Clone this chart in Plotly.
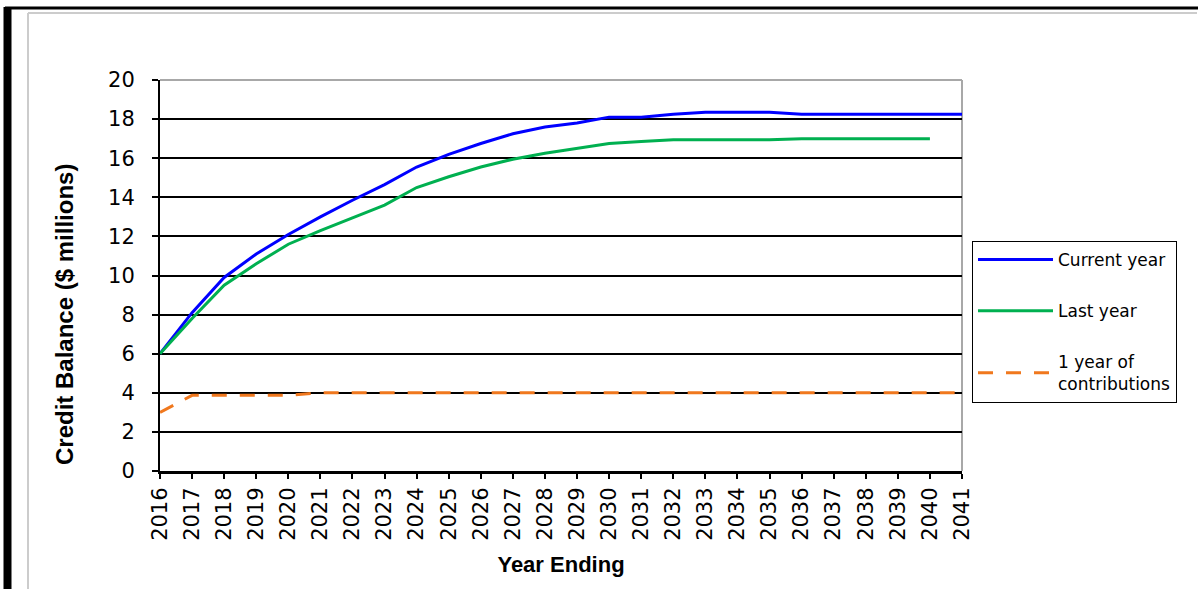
import plotly.graph_objects as go

# Projected credit balance by year ending ($ millions)
years = list(range(2016, 2042))
current_year = [6.0, 8.1, 9.9, 11.1, 12.1, 13.0, 13.85, 14.65, 15.55, 16.2,
                16.75, 17.25, 17.6, 17.8, 18.1, 18.1, 18.25, 18.35, 18.35, 18.35,
                18.25, 18.25, 18.25, 18.25, 18.25, 18.25]
last_year = [6.0, 7.8, 9.5, 10.6, 11.6, 12.3, 12.95, 13.6, 14.5, 15.05,
             15.55, 15.95, 16.25, 16.5, 16.75, 16.85, 16.95, 16.95, 16.95, 16.95,
             17.0, 17.0, 17.0, 17.0, 17.0, None]
one_year_contrib = [3.0, 3.87, 3.87, 3.87, 3.87, 4.0, 4.0, 4.0, 4.0, 4.0,
                    4.0, 4.0, 4.0, 4.0, 4.0, 4.0, 4.0, 4.0, 4.0, 4.0,
                    4.0, 4.0, 4.0, 4.0, 4.0, 4.0]
y_ticks = list(range(0, 21, 2))

W, H = 1203, 589
L, R, T, B = 160, 962, 80, 471  # plot area in pixels


def px(x):
    return (x - L) / (R - L)


def py(y):
    return (B - y) / (B - T)


fig = go.Figure()
fig.add_trace(go.Scatter(x=years, y=current_year, mode="lines", name="Current year",
                         line=dict(color="#0000FF", width=3), legendgroup="a"))
fig.add_trace(go.Scatter(x=years, y=last_year, mode="lines", name="Last year",
                         line=dict(color="#00B050", width=3), legendgroup="b"))
fig.add_trace(go.Scatter(x=years, y=one_year_contrib, mode="lines",
                         name="1 year of<br>contributions",
                         line=dict(color="#F0781E", width=3, dash="15px,13px"),
                         legendgroup="c"))

tick_font = dict(family="DejaVu Sans", size=21, color="black")
title_font = dict(family="Liberation Sans", size=22, color="black")

fig.update_xaxes(
    range=[2016, 2041], tickmode="array", tickvals=years,
    ticktext=[str(y) for y in years], tickangle=-90,
    ticks="outside", ticklen=5, tickwidth=2, tickcolor="black",
    showline=True, linecolor="black", linewidth=3,
    showgrid=False, zeroline=False, tickfont=tick_font,
    title=dict(text="<b>Year Ending</b>", font=title_font, standoff=17),
)
fig.update_yaxes(
    range=[0, 20], tickmode="array", tickvals=y_ticks,
    ticks="outside", ticklen=6, tickwidth=2, tickcolor="black",
    showline=True, linecolor="black", linewidth=2,
    showgrid=True, gridcolor="black", gridwidth=2, zeroline=False,
    tickfont=tick_font, ticklabelstandoff=13,
)

shapes = [
    # grey top and right edges of the plot area
    dict(type="line", xref="paper", yref="paper", x0=0, x1=1, y0=1, y1=1,
         line=dict(color="#A8A8A8", width=2), layer="between"),
    dict(type="line", xref="paper", yref="paper", x0=1, x1=1, y0=0, y1=1,
         line=dict(color="#A8A8A8", width=2), layer="between"),
    # page frame
    dict(type="line", xref="paper", yref="paper", x0=px(5), x1=px(1198), y0=py(8), y1=py(8),
         line=dict(color="black", width=3)),
    dict(type="line", xref="paper", yref="paper", x0=px(7.5), x1=px(7.5), y0=py(7), y1=py(H + 5),
         line=dict(color="black", width=8)),
    dict(type="line", xref="paper", yref="paper", x0=px(28), x1=px(1197), y0=py(13), y1=py(13),
         line=dict(color="#CCCCCC", width=2)),
    dict(type="line", xref="paper", yref="paper", x0=px(28), x1=px(28), y0=py(13), y1=py(H + 5),
         line=dict(color="#CCCCCC", width=2)),
]

annotations = [
    dict(text="<b>Credit Balance ($ millions)</b>", textangle=-90,
         xref="paper", yref="paper", x=px(64), y=py(315),
         xanchor="center", yanchor="middle", showarrow=False,
         font=dict(family="Liberation Sans", size=24, color="black")),
]

fig.update_layout(
    width=W, height=H,
    margin=dict(l=L, r=W - R, t=T, b=H - B, autoexpand=False),
    paper_bgcolor="white", plot_bgcolor="white",
    shapes=shapes, annotations=annotations,
    showlegend=True,
    legend=dict(
        x=px(972), y=py(241), xanchor="left", yanchor="top",
        bordercolor="black", borderwidth=1, bgcolor="white",
        font=dict(family="DejaVu Sans", size=17, color="black"),
        itemwidth=75, tracegroupgap=26, traceorder="grouped",
    ),
)

fig.write_html("out.html")
